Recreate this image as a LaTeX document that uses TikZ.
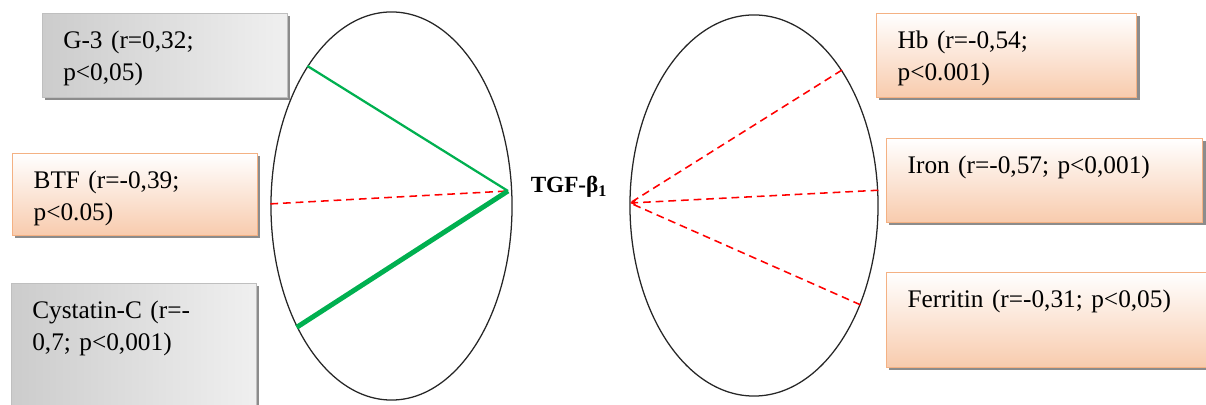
\documentclass[tikz,border=0pt]{standalone}
\usepackage{fontspec}
\setmainfont{Liberation Serif}
\usepackage{xcolor}
\usetikzlibrary{arrows.meta,shapes.geometric,shadows}
\definecolor{boxorange}{HTML}{F4B183}
\definecolor{fillorange}{HTML}{F8CBAD}
\definecolor{posgreen}{HTML}{00B050}

\begin{document}
\begin{tikzpicture}[
  x=0.025cm, y=-0.025cm,
  >={Stealth[length=1.6mm, width=1.5mm]},
  oval/.style={draw=black!85, line width=0.9pt, ellipse, inner sep=0pt},
  fact/.style={anchor=north west, align=left, inner xsep=0.525cm, inner ysep=0.4cm,
    text height=0.475cm, font=\fontsize{18}{22.7}\selectfont,
    drop shadow={shadow xshift=0.07cm, shadow yshift=-0.07cm, fill=black!45, opacity=1}},
  factgray/.style={fact, draw=black!25, left color=black!20, right color=black!6},
  factorange/.style={fact, draw=boxorange, line width=0.9pt, top color=white, bottom color=fillorange},
  poslink/.style={draw=posgreen, line width=1.6pt},
  strongposlink/.style={draw=posgreen, line width=3.5pt},
  neglink/.style={draw=red, line width=1.1pt, dash pattern=on 5.5pt off 3.5pt}
]
  \useasboundingbox (0,0) rectangle (1206,405);

  \node[oval, minimum width=6.025cm, minimum height=9.7cm] (lell) at (391.5,206) {};
  \node[oval, minimum width=6.2cm, minimum height=9.525cm] (rell) at (754,205.5) {};
  \coordinate (lhub) at (508,191);
  \coordinate (rhub) at (630,203);

  \node[font=\bfseries\fontsize{16.5}{19}\selectfont] (tgf) at (569,187) {TGF-β\textsubscript{1}};

  \path[poslink] (lell.121) -- (lhub);
  \path[neglink] (lell.179) -- (lhub);
  \path[strongposlink] (lell.232.5) -- (lhub);
  \path[neglink] (rell.57.8) -- (rhub);
  \path[neglink, ->] (rell.7.2) -- (rhub);
  \path[neglink] (rell.317) -- (rhub);

  \node[factgray, text width=5.075cm, text depth=0.825cm] (gthree) at (42,13) {G-3 (r=0,32;\\p<0,05)};
  \node[factorange, text width=5.075cm, text depth=0.775cm] (btf) at (12,153) {BTF (r=-0,39;\\p<0.05)};
  \node[factgray, text width=5.075cm, text depth=2.225cm] (cysc) at (11,283) {Cystatin-C (r=-\\0,7; p<0,001)};
  \node[factorange, text width=5.45cm, text depth=0.825cm] (hb) at (876,13) {Hb (r=-0,54;\\p<0.001)};
  \node[factorange, text width=6.85cm, text depth=0.825cm] (iron) at (886,138) {Iron (r=-0,57; p<0,001)};
  \node[factorange, text width=7.2cm, text depth=1.1cm] (ferritin) at (886,272) {Ferritin (r=-0,31; p<0,05)};
\end{tikzpicture}
\end{document}
